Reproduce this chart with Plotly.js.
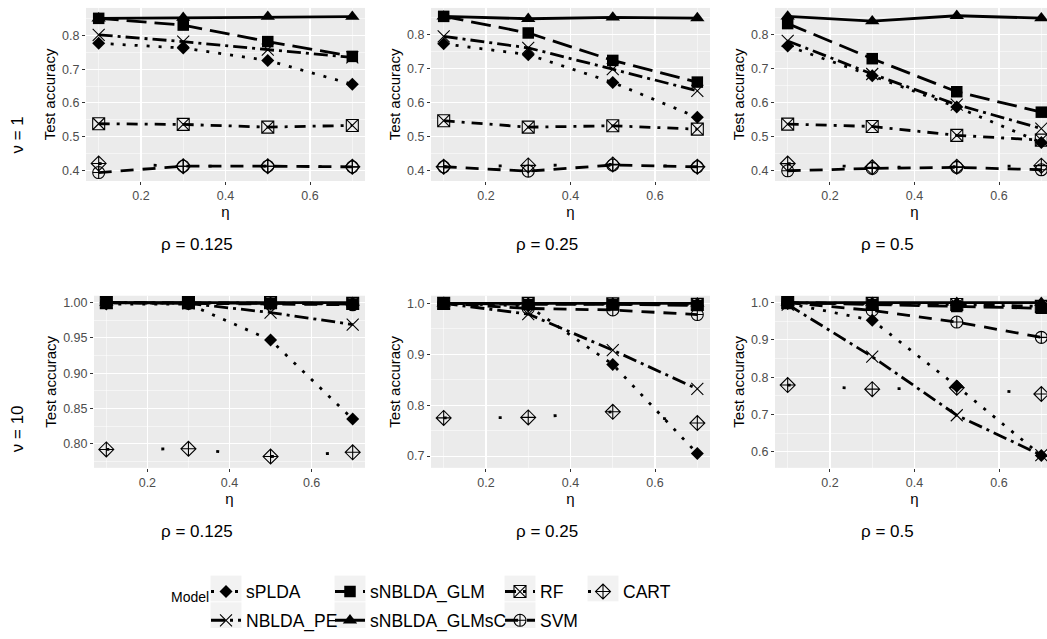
<!DOCTYPE html>
<html><head><meta charset="utf-8">
<script src="https://cdn.plot.ly/plotly-3.0.1.min.js"></script>
<style>html,body{margin:0;padding:0;overflow:hidden;background:#fff}#chart{width:1060px;height:639px}</style>
</head><body><div id="chart"></div>
<script>
// eta values (x axis)
const eta = [0.1, 0.3, 0.5, 0.7];
// facet labels, panel order: (nu=1: rho .125,.25,.5), (nu=10: rho .125,.25,.5)
const rhoLabels = ['ρ = 0.125', 'ρ = 0.25', 'ρ = 0.5'];
const nuLabels = ['ν = 1', 'ν = 10'];
const models = ['sPLDA','NBLDA_PE','sNBLDA_GLM','sNBLDA_GLMsC','RF','SVM','CART'];
// test accuracy per model, one row per panel (4 eta values each)
const sPLDA = [
  [0.777,0.763,0.726,0.655],[0.773,0.741,0.659,0.556],[0.766,0.679,0.587,0.483],
  [0.998,0.998,0.947,0.835],[1.000,0.995,0.880,0.705],[0.998,0.953,0.776,0.590]];
const NBLDA_PE = [
  [0.802,0.782,0.758,0.735],[0.795,0.761,0.698,0.634],[0.781,0.684,0.594,0.524],
  [1.000,0.999,0.986,0.969],[1.000,0.979,0.908,0.832],[0.995,0.855,0.698,0.591]];
const sNBLDA_GLM = [
  [0.851,0.831,0.782,0.738],[0.854,0.805,0.724,0.660],[0.832,0.729,0.632,0.572],
  [1.000,1.000,0.999,0.998],[1.000,0.998,0.998,0.996],[1.000,0.995,0.990,0.985]];
const sNBLDA_GLMsC = [
  [0.851,0.853,0.856,0.856],[0.854,0.847,0.851,0.849],[0.853,0.839,0.855,0.848],
  [1.000,1.000,1.000,1.000],[1.000,1.000,1.000,1.000],[1.000,1.000,1.000,1.000]];
const RF = [
  [0.538,0.536,0.528,0.533],[0.546,0.527,0.531,0.521],[0.537,0.530,0.504,0.490],
  [1.000,1.000,1.000,0.999],[1.000,1.000,0.999,0.998],[1.000,0.998,0.995,0.990]];
const SVM = [
  [0.393,0.412,0.412,0.410],[0.410,0.397,0.415,0.410],[0.400,0.407,0.410,0.403],
  [1.000,0.999,0.998,0.997],[1.000,0.990,0.987,0.978],[1.000,0.979,0.948,0.907]];
const CART = [
  [0.420,0.412,0.412,0.410],[0.410,0.414,0.417,0.410],[0.421,0.410,0.412,0.415],
  [0.792,0.793,0.782,0.788],[0.775,0.776,0.787,0.765],[0.779,0.768,0.772,0.755]];
const seriesData = [sPLDA, NBLDA_PE, sNBLDA_GLM, sNBLDA_GLMsC, RF, SVM, CART];

// styles
const styles = [
  {dash:'3px,9px', symbol:'diamond', size:10},
  {dash:'14px,5px,3px,5px', symbol:'x-thin-open', size:12},
  {dash:'20px,8px', symbol:'square', size:11.5},
  {dash:'solid', symbol:'triangle-up', size:12.5},
  {dash:'11px,7px,3px,7px', symbol:'square-x-open', size:12},
  {dash:'13px,9px', symbol:'circle-cross-open', size:12},
  {dash:'3px,52px', symbol:'diamond-cross-open', size:11.5}
];
const legendOf = ['legend','legend','legend2','legend2','legend3','legend3','legend4'];

const W = 1060, H = 639;
const panelX = [[86,365],[431,710],[775,1054],[94,365],[431,710],[775,1054]];
const panelY = [[8,183],[8,183],[8,183],[299,473],[299,473],[299,473]];
const yRanges = [[0.368,0.882],[0.368,0.879],[0.370,0.878],[0.766,1.0098],[0.677,1.015],[0.557,1.0186]];
const yTick = [[0.1,0.05,'.1f'],[0.1,0.05,'.1f'],[0.1,0.05,'.1f'],[0.05,0.025,'.2f'],[0.1,0.05,'.1f'],[0.1,0.05,'.1f']];

const traces = [];
for (let p = 0; p < 6; p++) {
  const ax = p === 0 ? '' : String(p + 1);
  for (let m = 0; m < models.length; m++) {
    const st = styles[m];
    const open = st.symbol.indexOf('open') >= 0;
    traces.push({
      x: eta, y: seriesData[m][p], type: 'scatter', mode: 'lines+markers',
      xaxis: 'x' + ax, yaxis: 'y' + ax,
      name: models[m], legendgroup: models[m], showlegend: p === 0,
      legend: legendOf[m],
      line: {color: '#000', width: 2.8, dash: st.dash},
      marker: {symbol: st.symbol, size: st.size, color: '#000',
               line: {color: '#000', width: open ? 1.1 : 0}},
      cliponaxis: true, hoverinfo: 'x+y+name'
    });
  }
}

const tickFont = {family: 'Liberation Sans, Arial, sans-serif', size: 12.5, color: '#4D4D4D'};
const titleFont = {family: 'Liberation Sans, Arial, sans-serif', size: 15, color: '#000'};
const layout = {
  width: W, height: H, margin: {l:0, r:0, t:0, b:0},
  paper_bgcolor: '#fff', plot_bgcolor: '#EBEBEB',
  font: {family: 'Liberation Sans, Arial, sans-serif', color: '#000'},
  annotations: [], shapes: []
};
for (let p = 0; p < 6; p++) {
  const ax = p === 0 ? '' : String(p + 1);
  layout['xaxis' + ax] = {
    domain: [panelX[p][0] / W, panelX[p][1] / W], anchor: 'y' + ax,
    range: [0.07, 0.73], tick0: 0, dtick: 0.2, tickformat: '.1f',
    ticks: 'outside', ticklen: 3, tickcolor: '#333', tickwidth: 1,
    showgrid: true, gridcolor: '#fff', gridwidth: 1.1, zeroline: false, showline: false,
    minor: {tick0: 0, dtick: 0.1, showgrid: true, gridcolor: '#fff', gridwidth: 0.5, ticklen: 0},
    tickfont: tickFont, title: {text: 'η', font: titleFont, standoff: 2}, fixedrange: true
  };
  layout['yaxis' + ax] = {
    domain: [1 - panelY[p][1] / H, 1 - panelY[p][0] / H], anchor: 'x' + ax,
    range: yRanges[p], tick0: 0, dtick: yTick[p][0], tickformat: yTick[p][2],
    ticks: 'outside', ticklen: 3, tickcolor: '#333', tickwidth: 1,
    showgrid: true, gridcolor: '#fff', gridwidth: 1.1, zeroline: false, showline: false,
    minor: {tick0: 0, dtick: yTick[p][1], showgrid: true, gridcolor: '#fff', gridwidth: 0.5, ticklen: 0},
    tickfont: tickFont, title: {text: 'Test accuracy', font: titleFont, standoff: 2}, fixedrange: true
  };
}
// facet labels
const rhoX = [197, 547, 887], rhoY = [247, 537];
for (let r = 0; r < 2; r++) for (let c = 0; c < 3; c++) {
  layout.annotations.push({xref:'paper', yref:'paper', x: rhoX[c] / W, y: 1 - rhoY[r] / H,
    text: rhoLabels[c], showarrow: false, xanchor: 'center', yanchor: 'middle',
    font: {size: 17, color: '#000'}});
}
const nuY = [137, 434];
for (let r = 0; r < 2; r++) {
  layout.annotations.push({xref:'paper', yref:'paper', x: 17 / W, y: 1 - nuY[r] / H,
    text: nuLabels[r], showarrow: false, textangle: -90, xanchor: 'center', yanchor: 'middle',
    font: {size: 17, color: '#000'}});
}
// legend title
layout.annotations.push({xref:'paper', yref:'paper', x: 190 / W, y: 1 - 604 / H, text: 'Model',
  showarrow: false, xanchor: 'center', yanchor: 'middle', font: {size: 14, color: '#000'}});
// legend key backgrounds and legend boxes
const legX = [206, 330, 500, 583], keyRows = [2, 2, 2, 1], keyCY = [595, 622];
for (let c = 0; c < 4; c++) for (let r = 0; r < keyRows[c]; r++) {
  const cx = legX[c] + 20;
  layout.shapes.push({type:'rect', xref:'paper', yref:'paper', layer:'above',
    x0: (cx - 15.5) / W, x1: (cx + 15.5) / W,
    y0: 1 - (keyCY[r] + 13) / H, y1: 1 - (keyCY[r] - 13) / H,
    fillcolor: '#F2F2F2', line: {width: 0}});
}
const legFont = {family: 'Liberation Sans, Arial, sans-serif', size: 17.5, color: '#000'};
['legend','legend2','legend3','legend4'].forEach((lg, i) => {
  layout[lg] = {x: legX[i] / W, y: 1 - 580 / H, xanchor: 'left', yanchor: 'top',
    orientation: 'v', bgcolor: 'rgba(0,0,0,0)', borderwidth: 0, font: legFont,
    tracegroupgap: 3, itemclick: false, itemdoubleclick: false};
});
Plotly.newPlot('chart', traces, layout, {displayModeBar: false, staticPlot: true});
</script></body></html>
